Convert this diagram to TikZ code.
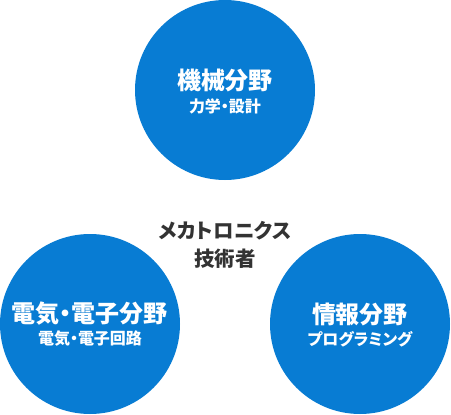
\documentclass[tikz,border=0pt]{standalone}
\usepackage{fontspec}
\setmainfont{Noto Sans CJK JP}[RawFeature=+palt]
\usepackage{tikz}
\definecolor{fieldblue}{HTML}{087CD3}
\definecolor{textgray}{HTML}{333333}

\tikzset{
    field/.style={circle, fill=fieldblue, minimum size=180pt, inner sep=0pt},
    fieldtitle/.style={text=white, font=\fontsize{24}{28}\selectfont\bfseries},
    fieldsub/.style={text=white, font=\fontsize{16}{19}\selectfont\bfseries},
    centertext/.style={text=textgray, align=center, font=\fontsize{20.5}{28}\selectfont\bfseries}
}

\begin{document}
\begin{tikzpicture}[x=1pt, y=-1pt]
        % Page frame
        \useasboundingbox (0,0) rectangle (451,415);

        % Mechanical field
        \node[field] (mech) at (225,90) {};
        \node[fieldtitle] (mechtitle) at (225,80) {機械分野};
        \node[fieldsub] (mechsub) at (225,106) {力学・設計};

        % Electrical field
        \node[field] (elec) at (90,324) {};
        \node[fieldtitle] (electitle) at (90,314) {電気・電子分野};
        \node[fieldsub] (elecsub) at (90,339) {電気・電子回路};

        % Information field
        \node[field] (info) at (360,324) {};
        \node[fieldtitle] (infotitle) at (360,314) {情報分野};
        \node[fieldsub] (infosub) at (360,339) {プログラミング};

        % Center label
        \node[centertext] (center) at (225,245) {メカトロニクス\\技術者};
\end{tikzpicture}
\end{document}
